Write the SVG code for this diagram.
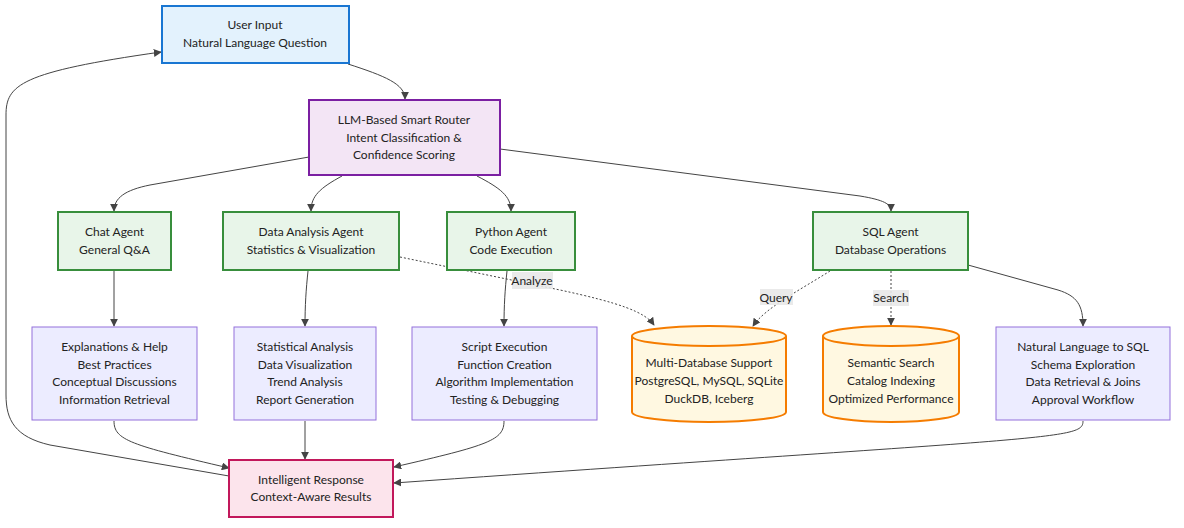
<svg xmlns="http://www.w3.org/2000/svg" width="1184" height="528" viewBox="0 0 1184 528">
  <style>
    text { font-family: Lato, "Liberation Sans", sans-serif; font-size: 12px; fill: #222; text-anchor: middle; }
    .edge { fill: none; stroke: #444; stroke-width: 1; }
    .dot { stroke-dasharray: 2 2; }
    .lbl { fill: #e8e8e8; opacity: 0.9; }
    .input { fill: #e3f2fd; stroke: #1976d2; stroke-width: 2; }
    .router { fill: #f3e5f5; stroke: #7b1fa2; stroke-width: 2; }
    .agent { fill: #e8f5e9; stroke: #388e3c; stroke-width: 2; }
    .desc { fill: #ececff; stroke: #9370db; stroke-width: 1; }
    .store { fill: #fff8e1; stroke: #f57c00; stroke-width: 2; }
    .resp { fill: #fce4ec; stroke: #c2185b; stroke-width: 2; }
  </style>
  <defs>
    <marker id="arrow" viewBox="0 0 10 10" refX="9" refY="5" markerWidth="8" markerHeight="8" orient="auto" markerUnits="userSpaceOnUse">
      <path d="M0,0 L10,5 L0,10 z" fill="#444"/>
    </marker>
  </defs>

  <g id="connectors">
    <path class="edge" marker-end="url(#arrow)" d="M348,64 C385,76 405,84 405,99"/>
    <path class="edge" marker-end="url(#arrow)" d="M309,157 L150,185 C125,190 114,198 114,211"/>
    <path class="edge" marker-end="url(#arrow)" d="M342,176 C320,188 311,196 311,211"/>
    <path class="edge" marker-end="url(#arrow)" d="M477,176 C500,188 511,196 511,211"/>
    <path class="edge" marker-end="url(#arrow)" d="M500,149 L860,196 C884,200 891,204 891,211"/>
    <path class="edge" marker-end="url(#arrow)" d="M114,271 L114,326"/>
    <path class="edge" marker-end="url(#arrow)" d="M308,271 C306,290 305,305 305,326"/>
    <path class="edge" marker-end="url(#arrow)" d="M507,271 C505,290 504,305 504,326"/>
    <path class="edge" marker-end="url(#arrow)" d="M968,265 L1058,290 C1077,296 1083,305 1083,326"/>
    <path class="edge dot" marker-end="url(#arrow)" d="M400,257 L560,290 C620,303 645,312 654,325"/>
    <path class="edge dot" marker-end="url(#arrow)" d="M830,271 C800,290 765,308 753,326"/>
    <path class="edge dot" marker-end="url(#arrow)" d="M891,271 L891,325"/>
    <path class="edge" marker-end="url(#arrow)" d="M114,421 C114,440 130,445 229,468"/>
    <path class="edge" marker-end="url(#arrow)" d="M305,421 L305,459"/>
    <path class="edge" marker-end="url(#arrow)" d="M504,421 C504,440 490,445 394,467"/>
    <path class="edge" marker-end="url(#arrow)" d="M1083,421 C1083,440 1060,436 394,483"/>
    <path class="edge" marker-end="url(#arrow)" d="M229,476 L50,445 C15,437 6,420 6,395 L6,115 C6,85 20,72 161,52"/>
    <rect class="lbl" x="512" y="272" width="41" height="17"/>
    <text x="532" y="285">Analyze</text>
    <rect class="lbl" x="760" y="289" width="33" height="16"/>
    <text x="776" y="302">Query</text>
    <rect class="lbl" x="873" y="290" width="36" height="16"/>
    <text x="891" y="302">Search</text>
  </g>

  <g id="user-input">
    <rect class="input" x="162" y="6" width="187" height="57"/>
    <text x="255" y="29">User Input</text>
    <text x="255" y="47">Natural Language Question</text>
  </g>

  <g id="router">
    <rect class="router" x="309" y="100" width="191" height="75"/>
    <text x="404" y="124">LLM-Based Smart Router</text>
    <text x="404" y="142">Intent Classification &amp;</text>
    <text x="404" y="159">Confidence Scoring</text>
  </g>

  <g id="chat-agent">
    <rect class="agent" x="58" y="212" width="113" height="58"/>
    <text x="114.5" y="236">Chat Agent</text>
    <text x="114.5" y="254">General Q&amp;A</text>
  </g>

  <g id="data-analysis-agent">
    <rect class="agent" x="223" y="212" width="176" height="58"/>
    <text x="311" y="236">Data Analysis Agent</text>
    <text x="311" y="254">Statistics &amp; Visualization</text>
  </g>

  <g id="python-agent">
    <rect class="agent" x="447" y="212" width="128" height="58"/>
    <text x="511" y="236">Python Agent</text>
    <text x="511" y="254">Code Execution</text>
  </g>

  <g id="sql-agent">
    <rect class="agent" x="813" y="212" width="155" height="58"/>
    <text x="890.5" y="236">SQL Agent</text>
    <text x="890.5" y="254">Database Operations</text>
  </g>

  <g id="chat-tasks">
    <rect class="desc" x="32" y="327" width="165" height="93"/>
    <text x="114.5" y="351">Explanations &amp; Help</text>
    <text x="114.5" y="369">Best Practices</text>
    <text x="114.5" y="386">Conceptual Discussions</text>
    <text x="114.5" y="404">Information Retrieval</text>
  </g>

  <g id="analysis-tasks">
    <rect class="desc" x="234" y="327" width="142" height="93"/>
    <text x="305" y="351">Statistical Analysis</text>
    <text x="305" y="369">Data Visualization</text>
    <text x="305" y="386">Trend Analysis</text>
    <text x="305" y="404">Report Generation</text>
  </g>

  <g id="python-tasks">
    <rect class="desc" x="412" y="327" width="185" height="93"/>
    <text x="504.5" y="351">Script Execution</text>
    <text x="504.5" y="369">Function Creation</text>
    <text x="504.5" y="386">Algorithm Implementation</text>
    <text x="504.5" y="404">Testing &amp; Debugging</text>
  </g>

  <g id="sql-tasks">
    <rect class="desc" x="996" y="327" width="174" height="93"/>
    <text x="1083" y="351">Natural Language to SQL</text>
    <text x="1083" y="369">Schema Exploration</text>
    <text x="1083" y="386">Data Retrieval &amp; Joins</text>
    <text x="1083" y="404">Approval Workflow</text>
  </g>

  <g id="multi-database">
    <path class="store" d="M632,336 a77,10 0 0 0 154,0 a77,10 0 0 0 -154,0 l0,76 a77,10 0 0 0 154,0 l0,-76"/>
    <text x="709" y="367">Multi-Database Support</text>
    <text x="709" y="385">PostgreSQL, MySQL, SQLite</text>
    <text x="709" y="403">DuckDB, Iceberg</text>
  </g>

  <g id="semantic-search">
    <path class="store" d="M823,336 a68,10 0 0 0 136,0 a68,10 0 0 0 -136,0 l0,76 a68,10 0 0 0 136,0 l0,-76"/>
    <text x="891" y="367">Semantic Search</text>
    <text x="891" y="385">Catalog Indexing</text>
    <text x="891" y="403">Optimized Performance</text>
  </g>

  <g id="response">
    <rect class="resp" x="229" y="460" width="164" height="57"/>
    <text x="311" y="484">Intelligent Response</text>
    <text x="311" y="501">Context-Aware Results</text>
  </g>
</svg>
